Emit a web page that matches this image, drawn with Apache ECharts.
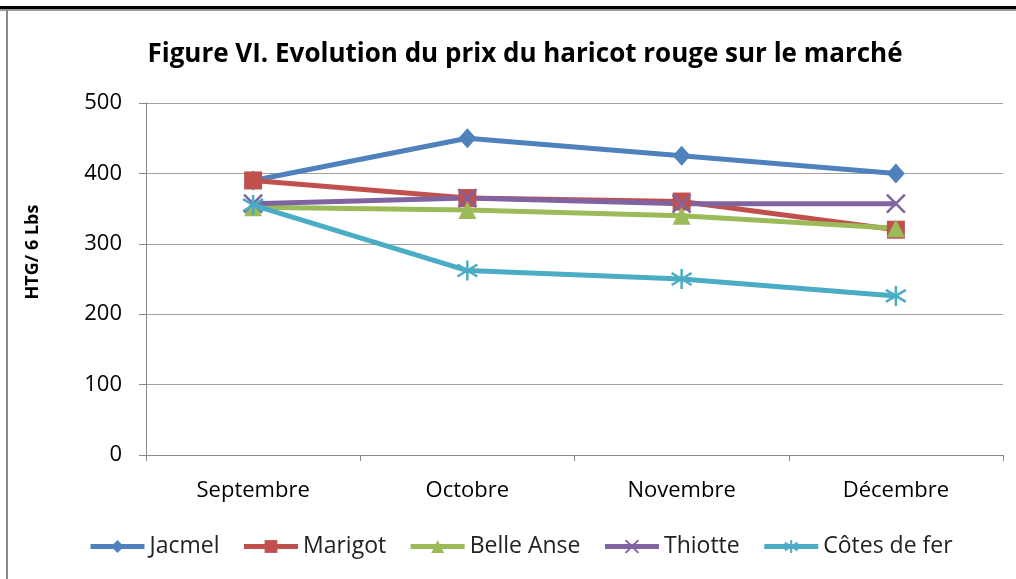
<!DOCTYPE html>
<html><head><meta charset="utf-8">
<script src="https://cdn.jsdelivr.net/npm/echarts@6/dist/echarts.min.js"></script>
<style>html,body{margin:0;padding:0;background:#fff}#c{width:1016px;height:579px}</style>
</head><body><div id="c"></div>
<script>
const months = ['Septembre', 'Octobre', 'Novembre', 'Décembre'];
const jacmel = [390, 450, 425, 400];
const marigot = [390, 365, 360, 320];
const belleAnse = [352, 348, 340, 322];
const thiotte = [357, 365, 357, 357];
const cotesDeFer = [355, 262, 250, 226];
const yTicks = [0, 100, 200, 300, 400, 500];

const FONT = '"Open Sans", sans-serif';
const xPath = 'path://M0,0L10,10M10,0L0,10';
const starPath = 'path://M5,0L5,10M0,2L10,8M0,8L10,2';

function mk(name, data, color, symbol, size, stroke) {
  const s = {
    name, type: 'line', data, symbol, symbolSize: size,
    lineStyle: {color, width: 5},
    itemStyle: {color},
    emphasis: {disabled: true}
  };
  if (stroke) {
    s.itemStyle = {color, borderColor: color, borderWidth: 2.5};
  }
  return s;
}

const chart = echarts.init(document.getElementById('c'));
chart.setOption({
  animation: false,
  backgroundColor: '#fff',
  title: {
    text: 'Figure VI. Evolution du prix du haricot rouge sur le marché',
    left: 520, top: 37, textAlign: 'center',
    textStyle: {fontFamily: FONT, fontWeight: 'bold', fontSize: 26, color: '#000'}
  },
  graphic: [
    {type: 'rect', shape: {x: 0, y: 6, width: 1016, height: 3}, style: {fill: '#000'}},
    {type: 'rect', shape: {x: 0, y: 9, width: 1016, height: 2}, style: {fill: '#999'}},
    {type: 'rect', shape: {x: 6, y: 10, width: 2, height: 569}, style: {fill: '#888'}},
    {type: 'text', x: 33, y: 252, rotation: Math.PI / 2,
     style: {text: 'HTG/ 6 Lbs', fontFamily: FONT, fontWeight: 'bold', fontSize: 18, fill: '#000',
             align: 'center', verticalAlign: 'middle'}}
  ],
  legend: {
    bottom: 16, left: 83, itemWidth: 54, itemHeight: 16, itemGap: 22,
    lineStyle: {width: 5},
    textStyle: {fontFamily: FONT, fontSize: 23, color: '#222'},
    data: ['Jacmel', 'Marigot', 'Belle Anse', 'Thiotte', 'Côtes de fer']
  },
  grid: {left: 146, right: 13, top: 103, bottom: 124, containLabel: false},
  xAxis: {
    type: 'category', data: months, boundaryGap: true,
    axisLine: {lineStyle: {color: '#888', width: 1}},
    axisTick: {show: true, length: 6, lineStyle: {color: '#888'}},
    axisLabel: {fontFamily: FONT, fontSize: 22, color: '#000', margin: 25}
  },
  yAxis: {
    type: 'value', min: 0, max: 500, interval: 100,
    axisLine: {show: true, lineStyle: {color: '#888'}},
    axisTick: {show: true, length: 7, lineStyle: {color: '#888'}},
    axisLabel: {fontFamily: FONT, fontSize: 22, color: '#000', margin: 24,
      formatter: v => yTicks.includes(v) ? String(v) : ''},
    splitLine: {lineStyle: {color: '#a0a0a0', width: 1}}
  },
  series: [
    mk('Jacmel', jacmel, '#4F81BD', 'diamond', [18, 20]),
    mk('Marigot', marigot, '#C0504D', 'rect', 18),
    mk('Belle Anse', belleAnse, '#9BBB59', 'triangle', 18),
    mk('Thiotte', thiotte, '#8064A2', xPath, 18, true),
    mk('Côtes de fer', cotesDeFer, '#4BACC6', starPath, 20, true)
  ]
});
</script></body></html>
